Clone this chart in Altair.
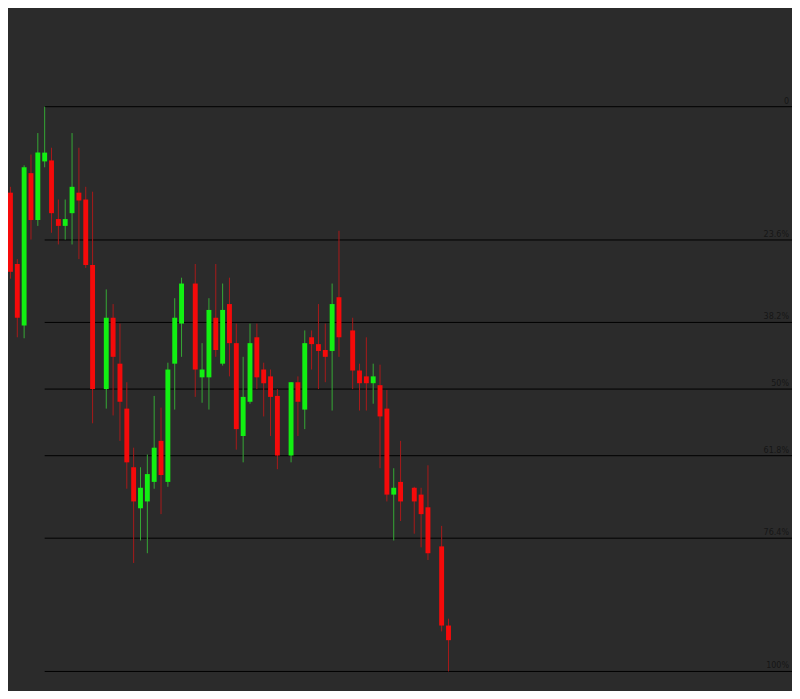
import altair as alt
import pandas as pd

# Candle slot index (gaps are missing sessions)
idx = [0, 1, 2, 3, 4, 5, 6, 7, 8, 9, 10, 11, 12,
       14, 15, 16, 17, 18, 19, 20, 21, 22, 23, 24, 25,
       27, 28, 29, 30, 31, 32, 33, 34, 35, 36, 37, 38, 39,
       41, 42, 43, 44, 45, 46, 47, 48,
       50, 51, 52, 53, 54, 55, 56, 57,
       59, 60, 61,
       63, 64]

opens = [1.2490, 1.2417, 1.2354, 1.2510, 1.2462, 1.2522, 1.2523, 1.2463, 1.2456, 1.2469, 1.2490, 1.2483, 1.2416,
         1.2289, 1.2362, 1.2315, 1.2269, 1.2209, 1.2167, 1.2174, 1.2194, 1.2236, 1.2194, 1.2315, 1.2356,
         1.2397, 1.2301, 1.2301, 1.2362, 1.2315, 1.2376, 1.2336, 1.2241, 1.2276, 1.2342, 1.2309, 1.2302, 1.2282,
         1.2221, 1.2296, 1.2268, 1.2342, 1.2335, 1.2329, 1.2328, 1.2383,
         1.2349, 1.2308, 1.2302, 1.2295, 1.2293, 1.2269, 1.2181, 1.2194,
         1.2188, 1.2181, 1.2168,
         1.2128, 1.2047]

highs = [1.2496, 1.2422, 1.2518, 1.2529, 1.2551, 1.2578, 1.2536, 1.2483, 1.2483, 1.2551, 1.2536, 1.2496, 1.2491,
         1.2391, 1.2376, 1.2356, 1.2296, 1.2229, 1.2209, 1.2222, 1.2282, 1.2270, 1.2316, 1.2382, 1.2403,
         1.2417, 1.2336, 1.2382, 1.2417, 1.2397, 1.2403, 1.2356, 1.2322, 1.2356, 1.2356, 1.2316, 1.2309, 1.2289,
         1.2296, 1.2302, 1.2349, 1.2349, 1.2376, 1.2356, 1.2397, 1.2451,
         1.2362, 1.2315, 1.2342, 1.2315, 1.2314, 1.2288, 1.2208, 1.2236,
         1.2189, 1.2188, 1.2211,
         1.2149, 1.2054]

lows = [1.2402, 1.2342, 1.2341, 1.2442, 1.2456, 1.2516, 1.2449, 1.2437, 1.2442, 1.2437, 1.2422, 1.2413, 1.2254,
        1.2269, 1.2262, 1.2236, 1.2187, 1.2111, 1.2134, 1.2121, 1.2187, 1.2161, 1.2189, 1.2268, 1.2322,
        1.2281, 1.2275, 1.2268, 1.2322, 1.2313, 1.2302, 1.2227, 1.2214, 1.2274, 1.2289, 1.2261, 1.2241, 1.2207,
        1.2214, 1.2241, 1.2248, 1.2309, 1.2289, 1.2296, 1.2267, 1.2322,
        1.2289, 1.2267, 1.2267, 1.2274, 1.2208, 1.2174, 1.2134, 1.2154,
        1.2141, 1.2127, 1.2114,
        1.2041, 1.2000]

closes = [1.2409, 1.2362, 1.2516, 1.2462, 1.2531, 1.2531, 1.2469, 1.2456, 1.2463, 1.2496, 1.2482, 1.2416, 1.2289,
          1.2362, 1.2322, 1.2276, 1.2214, 1.2174, 1.2188, 1.2202, 1.2229, 1.2201, 1.2309, 1.2362, 1.2397,
          1.2309, 1.2309, 1.2370, 1.2329, 1.2370, 1.2336, 1.2248, 1.2281, 1.2336, 1.2301, 1.2295, 1.2281, 1.2221,
          1.2296, 1.2276, 1.2336, 1.2335, 1.2328, 1.2322, 1.2376, 1.2342,
          1.2308, 1.2295, 1.2295, 1.2302, 1.2261, 1.2181, 1.2188, 1.2174,
          1.2174, 1.2161, 1.2121,
          1.2047, 1.2032]

fib_pcts = [0.0, 0.236, 0.382, 0.5, 0.618, 0.764, 1.0]
fib_labels = ["0", "23.6%", "38.2%", "50%", "61.8%", "76.4%", "100%"]

# Scale domains (view window)
X_MIN, X_MAX = -0.358, 114.19
Y_MIN, Y_MAX = 1.1980, 1.2679
HALF = 0.358  # half body width in slot units

W, H = 784, 683

df = pd.DataFrame({"i": idx, "open": opens, "high": highs, "low": lows, "close": closes})
df["dir"] = ["up" if c >= o else "down" for o, c in zip(opens, closes)]
df["x0"] = df["i"] - HALF
df["x1"] = df["i"] + HALF

hi_price = max(highs)
lo_price = min(lows)
hi_idx = idx[highs.index(hi_price)]
fib = pd.DataFrame({
    "label": fib_labels,
    "price": [hi_price - p * (hi_price - lo_price) for p in fib_pcts],
    "xs": [hi_idx] * len(fib_pcts),
    "xe": [X_MAX] * len(fib_pcts),
})

xs = alt.Scale(domain=[X_MIN, X_MAX], nice=False, zero=False)
ys = alt.Scale(domain=[Y_MIN, Y_MAX], nice=False, zero=False)

wick_color = alt.Color("dir:N", scale=alt.Scale(domain=["up", "down"], range=["#35a835", "#a81a1a"]), legend=None)
body_color = alt.Color("dir:N", scale=alt.Scale(domain=["up", "down"], range=["#12f012", "#f50a0a"]), legend=None)

lines = alt.Chart(fib).mark_rule(color="#000000", strokeWidth=1).encode(
    x=alt.X("xs:Q", scale=xs, axis=None),
    x2="xe:Q",
    y=alt.Y("price:Q", scale=ys, axis=None),
)

labels = alt.Chart(fib).mark_text(
    align="right", baseline="bottom", dx=-3, dy=-1,
    font="DejaVu Sans", fontSize=8, color="#161616",
).encode(
    x=alt.X("xe:Q", scale=xs, axis=None),
    y=alt.Y("price:Q", scale=ys, axis=None),
    text="label:N",
)

wicks = alt.Chart(df).mark_rule(strokeWidth=1).encode(
    x=alt.X("i:Q", scale=xs, axis=None),
    y=alt.Y("low:Q", scale=ys, axis=None),
    y2="high:Q",
    color=wick_color,
)

bodies = alt.Chart(df).mark_rect().encode(
    x=alt.X("x0:Q", scale=xs, axis=None),
    x2="x1:Q",
    y=alt.Y("open:Q", scale=ys, axis=None),
    y2="close:Q",
    color=body_color,
)

chart = alt.layer(lines, wicks, bodies, labels).properties(
    width=W, height=H,
    autosize=alt.AutoSizeParams(type="none"),
    padding=0,
    background="#2b2b2b",
).configure_view(stroke=None).resolve_scale(color="independent")

chart.save("out.html", embed_options={"renderer": "svg", "actions": False})
